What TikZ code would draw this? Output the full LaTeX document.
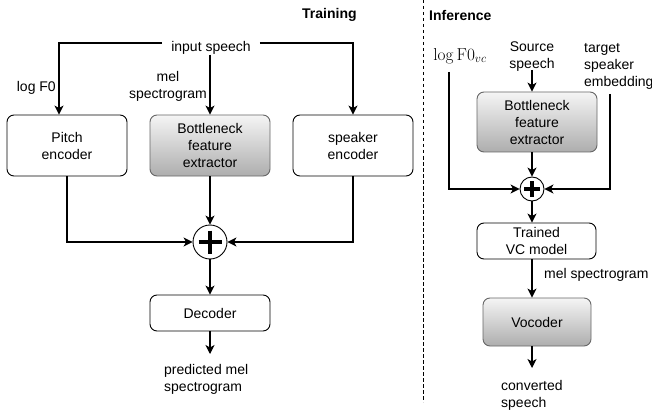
\documentclass[tikz,border=0pt]{standalone}
\usepackage[no-math]{fontspec}
\setmainfont{Liberation Sans}
\usetikzlibrary{arrows.meta,calc}

\tikzset{
  x=1pt, y=-1pt,
  every node/.style={font=\fontsize{14}{17}\selectfont},
  plainbox/.style={draw=black, line width=0.9pt, rounded corners=7pt, fill=white,
    align=center, inner sep=0pt},
  greybox/.style={draw=black!60, line width=0.9pt, rounded corners=7pt,
    top color=black!4, bottom color=black!32, align=center, inner sep=0pt},
  txt/.style={inner sep=0pt, align=center},
  sumnode/.style={draw=black, line width=0.9pt, circle, fill=white, inner sep=0pt},
  arr/.style={line width=1.1pt, -{Stealth[length=9pt,width=9pt,inset=2.5pt]}},
  title/.style={inner sep=0pt, font=\fontsize{14}{17}\selectfont\bfseries},
}

\begin{document}
\begin{tikzpicture}
\useasboundingbox (0,0) rectangle (652,414);

% ---------------- Training ----------------
\node[title, anchor=west] (ttrain) at (302,15) {Training};

\node[txt, inner xsep=9pt] (inp) at (211,48) {input speech};
\node[plainbox, minimum width=120, minimum height=61] (pitch) at (67,145.5) {Pitch\\encoder};
\node[greybox, minimum width=120, minimum height=61] (bnf) at (210,145.5) {Bottleneck\\feature\\extractor};
\node[plainbox, minimum width=120, minimum height=61] (spk) at (353,145.5) {speaker\\encoder};
\node[sumnode, minimum size=34] (sum) at (210,242) {};
\node[plainbox, minimum width=120, minimum height=36] (dec) at (210,313) {Decoder};

\node[txt, anchor=east] (lf0lab) at (56,88) {log F0};
\node[txt] (mellab) at (168,86.5) {mel\\spectrogram};
\node[txt, align=left, anchor=west] (pred) at (164,379) {predicted mel\\spectrogram};

\coordinate (pitchin) at ($(pitch.north)+(-8,0)$);
\coordinate (decout) at (210,354);

\draw[arr] ([yshift=5]inp.west) -| (pitchin);
\draw[arr] ([yshift=5]inp.east) -| (spk.north);
\draw[arr] (inp.south -| bnf.north) -- (bnf.north);
\draw[arr] (pitch.south) |- (sum.west);
\draw[arr] (spk.south) |- (sum.east);
\draw[arr] (bnf.south) -- (sum.north);
\draw[arr] (sum.south) -- (dec.north);
\draw[arr] (dec.south) -- (decout);

% plus sign
\draw[line width=3.6pt] ($(sum.center)+(-11.5,0)$) -- ($(sum.center)+(11.5,0)$)
  ($(sum.center)+(0,-11.5)$) -- ($(sum.center)+(0,11.5)$);

% ---------------- separator ----------------
\coordinate (septop) at (423,0);
\coordinate (sepbot) at (423,402);
\draw[line width=0.9pt, dash pattern=on 3.5pt off 2.5pt] (septop) -- (sepbot);

% ---------------- Inference ----------------
\node[title, anchor=west] (tinf) at (429,15) {Inference};

\node[inner sep=0pt, font=\fontsize{16.5}{17}\selectfont] (lf0) at (460,56) {$\log \mathrm{F0}_{vc}$};
\node[txt] (src) at (532,56.5) {Source\\speech};
\node[txt, align=left, anchor=west] (tgt) at (584,66) {target\\speaker\\embedding};

\node[greybox, minimum width=120, minimum height=60] (ibnf) at (537,122) {Bottleneck\\feature\\extractor};
\node[sumnode, minimum size=24] (isum) at (532,189) {};
\node[plainbox, minimum width=119, minimum height=36] (vc) at (536.5,241) {Trained\\VC model};
\node[greybox, minimum width=108, minimum height=48] (voc) at (537,322) {Vocoder};

\node[txt, anchor=west] (mel2) at (544,275) {mel spectrogram};
\node[txt, align=left, anchor=west] (conv) at (501,395) {converted\\speech};

\coordinate (lf0a) at (449,72);
\coordinate (tgta) at (610,94);
\coordinate (srcb) at (532,70);
\coordinate (convout) at (532,368);

\draw[arr] (srcb) -- (srcb |- ibnf.north);
\draw[arr] (isum.north |- ibnf.south) -- (isum.north);
\draw[arr] (lf0a) |- (isum.west);
\draw[arr] (tgta) |- (isum.east);
\draw[arr] (isum.south) -- (isum.south |- vc.north);
\draw[arr] (isum.south |- vc.south) -- (isum.south |- voc.north);
\draw[arr] (isum.south |- voc.south) -- (convout);

% plus sign
\draw[line width=3.2pt] ($(isum.center)+(-8,0)$) -- ($(isum.center)+(8,0)$)
  ($(isum.center)+(0,-8)$) -- ($(isum.center)+(0,8)$);
\end{tikzpicture}
\end{document}
